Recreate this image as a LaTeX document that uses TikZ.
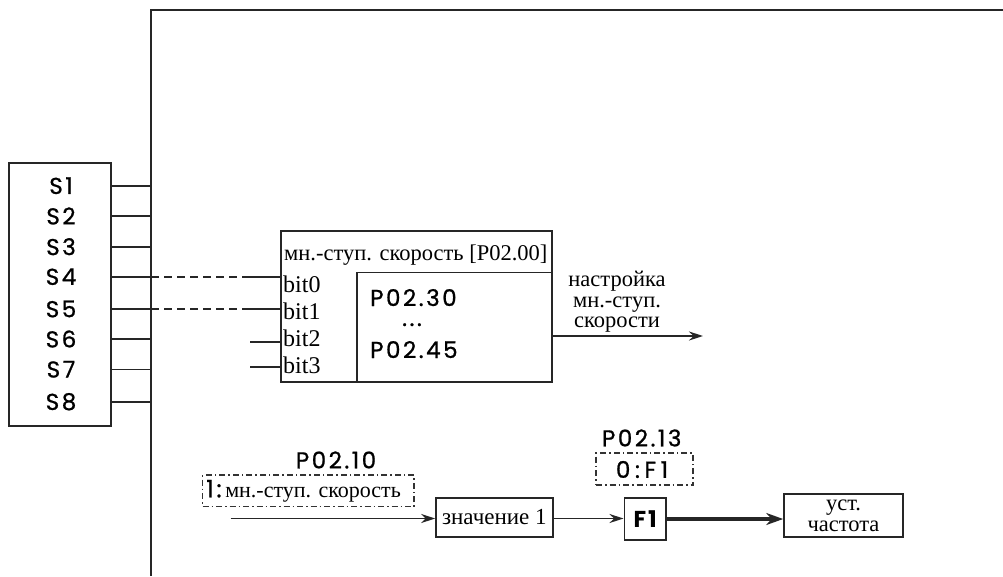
\documentclass[tikz,border=0pt]{standalone}
\usepackage{fontspec}
\setmainfont{Liberation Serif}
\newfontfamily\pop[LetterSpace=11,FakeBold=0.9]{Poppins}
\newfontfamily\popb[LetterSpace=8]{Poppins}
\usetikzlibrary{arrows.meta}
\tikzset{
  ln/.style={line width=1.6pt, draw=black!85},
  boxn/.style={draw=black!85, line width=1.6pt, inner sep=0pt, rectangle},
  ddbox/.style={draw=black!80, line width=1.3pt, inner sep=0pt, rectangle, dash pattern=on 6pt off 3pt on 1.5pt off 3pt},
  slab/.style={font=\pop\fontsize{23}{24}\selectfont, inner sep=0pt},
  ser/.style={font=\fontsize{23}{24}\selectfont, inner sep=0pt},
  arr/.style={ln, -{Stealth[length=14pt,width=9pt]}},
  dsh/.style={ln, dash pattern=on 8pt off 5pt},
}
\begin{document}
\begin{tikzpicture}[x=1pt,y=-1pt]
\useasboundingbox (0,0) rectangle (1003,576);
% frame
\draw[line width=2pt, draw=black!85] (151,576) -- (151,10) -- (1003,10);
% S box
\node[boxn, minimum width=102pt, minimum height=263.3pt] (sbox) at (60,294.35) {};
\foreach \n/\y in {1/185.7,2/216,3/246.7,4/276.7,5/309,6/339,7/369.3,8/401.7}{
  \node[slab] (s\n) at (61,\y) {S\n};
  \coordinate (sl\n) at (111,\y);
  \coordinate (fr\n) at (151,\y);
  \draw[ln] (sl\n) -- (fr\n);
}
% multi-speed box
\node[boxn, minimum width=271pt, minimum height=151.3pt] (mbox) at (416.2,306.35) {};
\node[boxn, minimum width=194.7pt, minimum height=109.7pt] (ibox) at (454.35,327.15) {};
\node[ser, anchor=west, font=\fontsize{22.5}{24}\selectfont] (title) at (284,255) {мн.-ступ. скорость [P02.00]};
\node[ser, anchor=west, font=\fontsize{24}{24}\selectfont] (b0) at (283,284) {bit0};
\node[ser, anchor=west, font=\fontsize{24}{24}\selectfont] (b1) at (283,311) {bit1};
\node[ser, anchor=west, font=\fontsize{24}{24}\selectfont] (b2) at (283,338.5) {bit2};
\node[ser, anchor=west, font=\fontsize{24}{24}\selectfont] (b3) at (283,365.5) {bit3};
\coordinate (i0) at (281,276.7);
\coordinate (i1) at (281,309);
\coordinate (i2) at (281,341.7);
\coordinate (i3) at (281,366.7);
\coordinate (d0) at (249,276.7);
\coordinate (d1) at (249,309);
\coordinate (e2) at (250,341.7);
\coordinate (e3) at (250,366.7);
\draw[dsh] (fr4) -- (d0);
\draw[ln] (d0) -- (i0);
\draw[dsh] (fr5) -- (d1);
\draw[ln] (d1) -- (i1);
\draw[ln] (e2) -- (i2);
\draw[ln] (e3) -- (i3);
\node[slab, anchor=base west, text depth=0pt] (p30) at (370,306) {P02.30};
\node[slab, anchor=base, text height=4pt, text depth=0pt] (dots) at (412,326) {...};
\node[slab, anchor=base west, text depth=0pt] (p45) at (370,358) {P02.45};
% output
\coordinate (o1) at (551.7,336);
\coordinate (o2) at (703,336);
\draw[arr] (o1) -- (o2);
\node[ser, align=center, font=\fontsize{22.5}{20.5}\selectfont] (olab) at (617,302) {настройка\\мн.-ступ.\\скорости};
% bottom chain
\node[slab] (p10) at (336,460) {P02.10};
\node[ddbox, minimum width=211.3pt, minimum height=31.7pt] (sel1) at (308.35,490.85) {};
\node[inner sep=0pt, anchor=west] (sel1t) at (206,491) {{\pop\fontsize{24}{24}\selectfont 1:}{\fontsize{22}{22}\selectfont\,мн.-ступ. скорость}};
\coordinate (in) at (230.7,518.5);
\node[boxn, ser, minimum width=116.7pt, minimum height=38.7pt] (val) at (494.35,517.35) {значение 1};
\draw[arr] (in) -- (in -| val.west);
\node[boxn, minimum width=41.7pt, minimum height=42.3pt, font=\popb\bfseries\fontsize{23}{24}\selectfont] (f1) at (645.15,518.85) {F1};
\draw[arr] (val.east |- 0,518.5) -- (f1.west |- 0,518.5);
\node[boxn, align=center, minimum width=119pt, minimum height=42.7pt, font=\fontsize{22.5}{21}\selectfont] (freq) at (843.5,515.35) {уст.\\частота};
\draw[line width=3.2pt, draw=black!85, -{Stealth[length=17pt,width=12pt]}] (f1.east |- 0,519) -- (freq.west |- 0,519);
\node[slab] (p13) at (641.7,438) {P02.13};
\node[ddbox, minimum width=97pt, minimum height=32pt] (sel2) at (644.5,469) {};
\node[slab, font=\pop\addfontfeature{LetterSpace=20}\fontsize{23}{24}\selectfont] (sel2t) at (642,469.5) {0:F1};
\end{tikzpicture}
\end{document}
